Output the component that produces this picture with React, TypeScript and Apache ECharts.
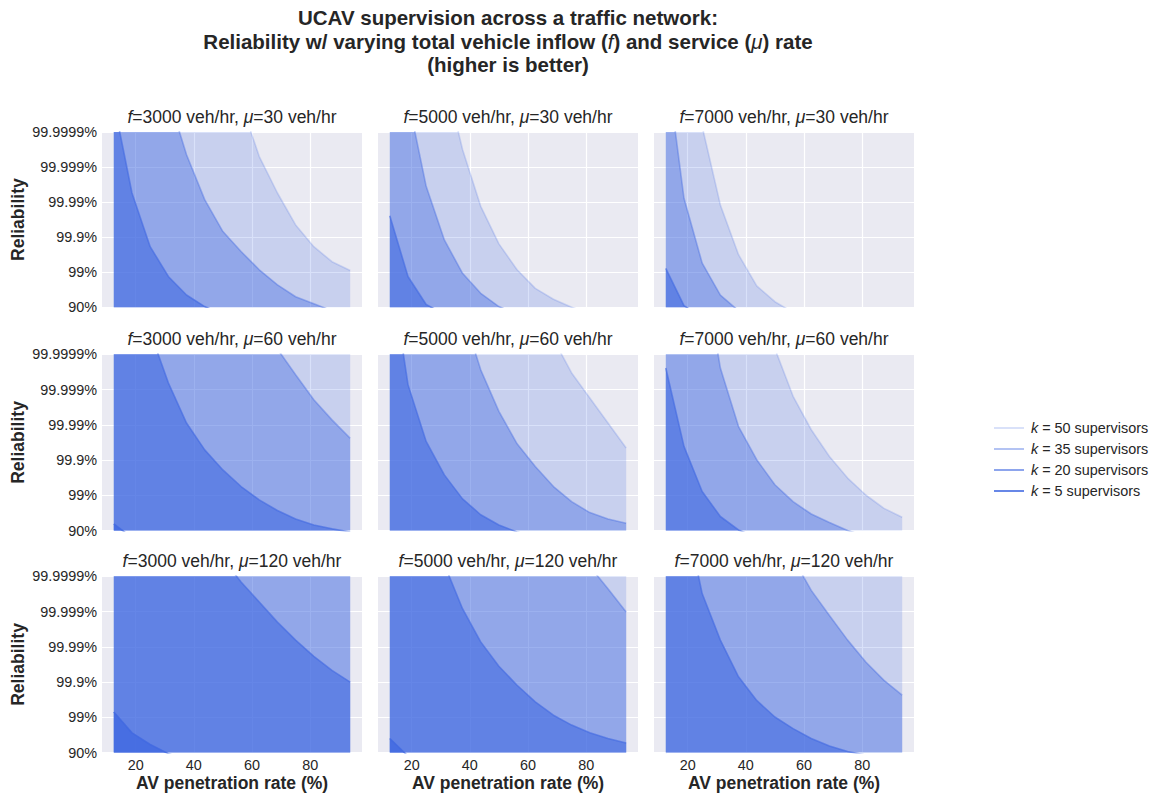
import React, { useEffect, useRef } from 'react';
import * as echarts from 'echarts';

// AV penetration rate (%) sample points
const penetration = [12.5, 18.75, 25, 31.25, 37.5, 43.75, 50, 56.25, 62.5, 68.75, 75, 81.25, 87.5, 93.75];
const inflows = [3000, 5000, 7000];
const serviceRates = [30, 60, 120];
const supervisors = [50, 35, 20, 5];
const yTickLabels = ['90%', '99%', '99.9%', '99.99%', '99.999%', '99.9999%'];
const xTickValues = [20, 40, 60, 80];

// Reliability expressed as "nines" (1 = 90%, 2 = 99%, ... 6 = 99.9999%)
// f = 3000, mu = 30
const r3000_30_k5 = [0.9, 0.7, 0.55, 0.45, 0.38, 0.32, 0.27, 0.23, 0.2, 0.17, 0.15, 0.13, 0.12, 0.1];
const r3000_30_k20 = [6.85, 4.26, 2.73, 1.88, 1.35, 1.02, 0.8, 0.65, 0.53, 0.44, 0.37, 0.31, 0.27, 0.23];
const r3000_30_k35 = [11, 9.5, 8.2, 7.03, 5.35, 4.07, 3.16, 2.59, 2.07, 1.64, 1.3, 1.1, 0.9, 0.76];
const r3000_30_k50 = [14, 13, 12, 11, 10, 9, 8, 6.83, 5.3, 4.26, 3.35, 2.73, 2.3, 2.05];
// f = 5000, mu = 30
const r5000_30_k5 = [0.7, 0.5, 0.4, 0.32, 0.26, 0.22, 0.18, 0.15, 0.13, 0.11, 0.1, 0.09, 0.08, 0.07];
const r5000_30_k20 = [3.61, 1.88, 1.08, 0.8, 0.62, 0.5, 0.41, 0.34, 0.29, 0.25, 0.22, 0.19, 0.17, 0.15];
const r5000_30_k35 = [8.5, 6.96, 4.45, 2.92, 1.97, 1.4, 1.02, 0.8, 0.65, 0.54, 0.45, 0.38, 0.33, 0.29];
const r5000_30_k50 = [11, 9.5, 8.5, 7.67, 5.5, 3.88, 2.81, 2.07, 1.54, 1.23, 1.0, 0.82, 0.68, 0.58];
// f = 7000, mu = 30
const r7000_30_k5 = [0.5, 0.38, 0.3, 0.24, 0.2, 0.17, 0.14, 0.12, 0.1, 0.09, 0.08, 0.07, 0.06, 0.05];
const r7000_30_k20 = [2.11, 1.05, 0.7, 0.52, 0.41, 0.34, 0.28, 0.24, 0.21, 0.18, 0.16, 0.14, 0.13, 0.12];
const r7000_30_k35 = [8.1, 4.11, 2.26, 1.35, 0.9, 0.68, 0.54, 0.44, 0.37, 0.31, 0.27, 0.23, 0.2, 0.18];
const r7000_30_k50 = [11, 9, 6.16, 3.92, 2.5, 1.61, 1.16, 0.85, 0.66, 0.53, 0.44, 0.37, 0.32, 0.28];
// f = 3000, mu = 60
const r3000_60_k5 = [1.19, 0.8, 0.68, 0.58, 0.5, 0.43, 0.37, 0.32, 0.28, 0.25, 0.22, 0.2, 0.18, 0.16];
const r3000_60_k20 = [10, 8.3, 6.64, 5.19, 4.05, 3.29, 2.72, 2.25, 1.87, 1.57, 1.33, 1.16, 1.05, 0.96];
const r3000_60_k35 = [16, 15, 14, 13, 12, 11, 10, 8.5, 7.2, 6.15, 5.42, 4.71, 4.14, 3.62];
const r3000_60_k50 = [20, 19, 18, 17, 16, 15, 14, 13, 12, 11, 10.5, 10, 9.5, 9];
// f = 5000, mu = 60
const r5000_60_k5 = [0.85, 0.62, 0.5, 0.41, 0.35, 0.3, 0.26, 0.23, 0.2, 0.18, 0.16, 0.15, 0.13, 0.12];
const r5000_60_k20 = [8.58, 5.14, 3.53, 2.58, 1.9, 1.45, 1.16, 0.96, 0.82, 0.71, 0.62, 0.55, 0.49, 0.44];
const r5000_60_k35 = [12, 10.5, 9.2, 8.2, 7.2, 5.56, 4.38, 3.46, 2.82, 2.25, 1.82, 1.51, 1.33, 1.21];
const r5000_60_k50 = [16, 15, 14, 13, 12, 11, 10, 9, 8, 6.43, 5.47, 4.76, 4.05, 3.34];
// f = 7000, mu = 60
const r7000_60_k5 = [0.7, 0.5, 0.4, 0.33, 0.28, 0.24, 0.21, 0.18, 0.16, 0.14, 0.13, 0.12, 0.11, 0.1];
const r7000_60_k20 = [5.61, 3.39, 2.11, 1.4, 1.02, 0.8, 0.66, 0.56, 0.48, 0.42, 0.37, 0.33, 0.3, 0.27];
const r7000_60_k35 = [10.5, 9.5, 8.7, 5.61, 3.95, 3.01, 2.3, 1.82, 1.47, 1.23, 1.0, 0.84, 0.72, 0.63];
const r7000_60_k50 = [14, 13, 12, 11, 9.5, 7.5, 6.16, 4.81, 3.86, 3.1, 2.49, 2.01, 1.63, 1.38];
// f = 3000, mu = 120
const r3000_120_k5 = [2.15, 1.56, 1.23, 0.97, 0.8, 0.68, 0.59, 0.52, 0.46, 0.41, 0.37, 0.33, 0.3, 0.28];
const r3000_120_k20 = [12, 11, 10, 9, 8, 7.2, 6.49, 5.84, 5.27, 4.7, 4.19, 3.73, 3.33, 3.0];
const r3000_120_k35 = [20, 19, 18, 17, 16, 15, 14, 13, 12, 11, 10.5, 10, 9.5, 9];
const r3000_120_k50 = [25, 24, 23, 22, 21, 20, 19, 18, 17, 16, 15, 14, 13, 12];
// f = 5000, mu = 120
const r5000_120_k5 = [1.4, 0.9, 0.65, 0.53, 0.45, 0.39, 0.34, 0.3, 0.27, 0.24, 0.22, 0.2, 0.18, 0.17];
const r5000_120_k20 = [11, 9.5, 8, 6.34, 5.08, 4.14, 3.45, 2.91, 2.44, 2.06, 1.78, 1.56, 1.4, 1.27];
const r5000_120_k35 = [18, 17, 16, 15, 14, 13, 12, 11, 10, 9, 8, 6.28, 5.65, 4.99];
const r5000_120_k50 = [25, 24, 23, 22, 21, 20, 19, 18, 17, 16, 15, 14, 13, 12];
// f = 7000, mu = 120
const r7000_120_k5 = [0.95, 0.7, 0.55, 0.45, 0.38, 0.33, 0.29, 0.26, 0.23, 0.21, 0.19, 0.17, 0.16, 0.15];
const r7000_120_k20 = [10, 7.96, 5.51, 4.19, 3.15, 2.48, 2.01, 1.68, 1.4, 1.19, 1.03, 0.93, 0.85, 0.78];
const r7000_120_k35 = [16, 15, 14, 13, 12, 11, 9, 6.51, 5.6, 4.89, 4.19, 3.57, 3.05, 2.63];
const r7000_120_k50 = [22, 21, 20, 19, 18, 17, 16, 15, 14, 13, 12, 11, 10.5, 10];

// panels[row][col][kIndex] with kIndex following `supervisors` order (50, 35, 20, 5)
const panels: number[][][][] = [
  [
    [r3000_30_k50, r3000_30_k35, r3000_30_k20, r3000_30_k5],
    [r5000_30_k50, r5000_30_k35, r5000_30_k20, r5000_30_k5],
    [r7000_30_k50, r7000_30_k35, r7000_30_k20, r7000_30_k5],
  ],
  [
    [r3000_60_k50, r3000_60_k35, r3000_60_k20, r3000_60_k5],
    [r5000_60_k50, r5000_60_k35, r5000_60_k20, r5000_60_k5],
    [r7000_60_k50, r7000_60_k35, r7000_60_k20, r7000_60_k5],
  ],
  [
    [r3000_120_k50, r3000_120_k35, r3000_120_k20, r3000_120_k5],
    [r5000_120_k50, r5000_120_k35, r5000_120_k20, r5000_120_k5],
    [r7000_120_k50, r7000_120_k35, r7000_120_k20, r7000_120_k5],
  ],
];

const FONT = "'Liberation Sans', Arial, sans-serif";
const TEXT = '#262626';
const alphas = [0.2, 0.4, 0.6, 0.8];
const colLeft = [102, 378, 654];
const rowTop = [132, 354.3, 576.3];
const rowHeight = [175.3, 176.3, 176.3];
const gridWidth = 260;

const seriesName = (k: number) => `k = ${k} supervisors`;

function buildOption() {
  const grid: any[] = [];
  const xAxis: any[] = [];
  const yAxis: any[] = [];
  const series: any[] = [];
  const graphic: any[] = [];

  for (let r = 0; r < 3; r++) {
    for (let c = 0; c < 3; c++) {
      const idx = r * 3 + c;
      grid.push({
        left: colLeft[c],
        top: rowTop[r],
        width: gridWidth,
        height: rowHeight[r],
        show: true,
        backgroundColor: '#EAEAF2',
        borderWidth: 0,
        containLabel: false,
        outerBoundsMode: 'none',
      });
      xAxis.push({
        type: 'value',
        gridIndex: idx,
        min: 8.44,
        max: 97.81,
        splitNumber: 5,
        axisLine: { show: false },
        axisTick: { show: false },
        axisLabel: {
          show: r === 2,
          margin: 5,
          fontFamily: FONT,
          fontSize: 14.4,
          color: TEXT,
          showMinLabel: false,
          showMaxLabel: false,
          formatter: (v: number) => (xTickValues.includes(Math.round(v * 1000) / 1000) ? String(v) : ''),
        },
        splitLine: { show: true, showMinLine: false, showMaxLine: false, lineStyle: { color: '#ffffff', width: 1.2 } },
        name: r === 2 ? 'AV penetration rate (%)' : '',
        nameLocation: 'middle',
        nameGap: 21,
        nameTextStyle: { fontFamily: FONT, fontSize: 17.5, fontWeight: 'bold', color: TEXT },
      });
      yAxis.push({
        type: 'value',
        gridIndex: idx,
        min: 1,
        max: 6,
        interval: 1,
        axisLine: { show: false },
        axisTick: { show: false },
        axisLabel: {
          show: c === 0,
          margin: 5,
          fontFamily: FONT,
          fontSize: 14.4,
          color: TEXT,
          formatter: (v: number) => yTickLabels[Math.round(v) - 1] ?? '',
        },
        splitLine: { show: true, lineStyle: { color: '#ffffff', width: 1.2 } },
        name: c === 0 ? 'Reliability' : '',
        nameLocation: 'middle',
        nameGap: 75,
        nameTextStyle: { fontFamily: FONT, fontSize: 17.5, fontWeight: 'bold', color: TEXT },
      });
      supervisors.forEach((k, ki) => {
        const col = `rgba(65,105,225,${alphas[ki]})`;
        const data = penetration.map((x, i) => [x, panels[r][c][ki][i]]);
        // filled region (no stroke); baseline far below the plot so nothing leaks at the bottom edge
        series.push({
          type: 'line',
          name: seriesName(k),
          xAxisIndex: idx,
          yAxisIndex: idx,
          data,
          showSymbol: false,
          symbol: 'none',
          clip: true,
          color: col,
          itemStyle: { color: col },
          lineStyle: { color: col, width: 0, opacity: 0 },
          areaStyle: { color: col, origin: -50, opacity: 1 },
          z: 2,
        });
        // boundary line
        series.push({
          type: 'line',
          name: seriesName(k),
          xAxisIndex: idx,
          yAxisIndex: idx,
          data,
          showSymbol: false,
          symbol: 'none',
          clip: true,
          color: col,
          itemStyle: { color: col },
          lineStyle: { color: col, width: 1.6 },
          z: 3,
        });
      });
      const titleRich = { i: { fontStyle: 'italic', fontFamily: FONT, fontSize: 17.5, fill: TEXT } };
      graphic.push({
        type: 'text',
        x: colLeft[c] + gridWidth / 2,
        y: rowTop[r] - 15,
        style: {
          text: `{i|f}=${inflows[c]} veh/hr, {i|μ}=${serviceRates[r]} veh/hr`,
          fontFamily: FONT,
          fontSize: 17.5,
          fill: TEXT,
          align: 'center',
          verticalAlign: 'middle',
          textAlign: 'center',
          textVerticalAlign: 'middle',
          rich: titleRich,
        },
      });
    }
  }

  const cx = 508;
  const titleStyle = (text: string, y: number) => ({
    type: 'text',
    x: cx,
    y,
    style: {
      text,
      fontFamily: FONT,
      fontSize: 20.5,
      fontWeight: 'bold',
      fill: TEXT,
      align: 'center',
      verticalAlign: 'middle',
      textAlign: 'center',
      textVerticalAlign: 'middle',
      rich: { i: { fontStyle: 'italic', fontWeight: 'normal', fontFamily: FONT, fontSize: 20.5, fill: TEXT } },
    },
  });
  graphic.push(titleStyle('UCAV supervision across a traffic network:', 17));
  graphic.push(titleStyle('Reliability w/ varying total vehicle inflow ({i|f}) and service ({i|μ}) rate', 41));
  graphic.push(titleStyle('(higher is better)', 64.5));

  return {
    animation: false,
    grid,
    xAxis,
    yAxis,
    series,
    graphic,
    legend: {
      orient: 'vertical',
      left: 989,
      top: 416,
      data: supervisors.map(seriesName),
      icon: 'rect',
      itemWidth: 30,
      itemHeight: 2,
      itemGap: 7,
      selectedMode: false,
      textStyle: {
        fontFamily: FONT,
        fontSize: 14.4,
        color: TEXT,
        padding: [0, 0, 0, 2],
        rich: { i: { fontStyle: 'italic', fontFamily: FONT, fontSize: 14.4, color: TEXT } },
      },
      formatter: (name: string) => name.replace(/^k/, '{i|k}'),
    },
  };
}

export default function App() {
  const ref = useRef<HTMLDivElement>(null);
  useEffect(() => {
    if (!ref.current) return;
    const chart = echarts.init(ref.current, undefined, { renderer: 'svg' });
    chart.setOption(buildOption() as any);
    return () => chart.dispose();
  }, []);
  return (
    <div
      ref={ref}
      style={{ position: 'absolute', left: 0, top: 0, width: 1154, height: 798, background: '#ffffff' }}
    />
  );
}
